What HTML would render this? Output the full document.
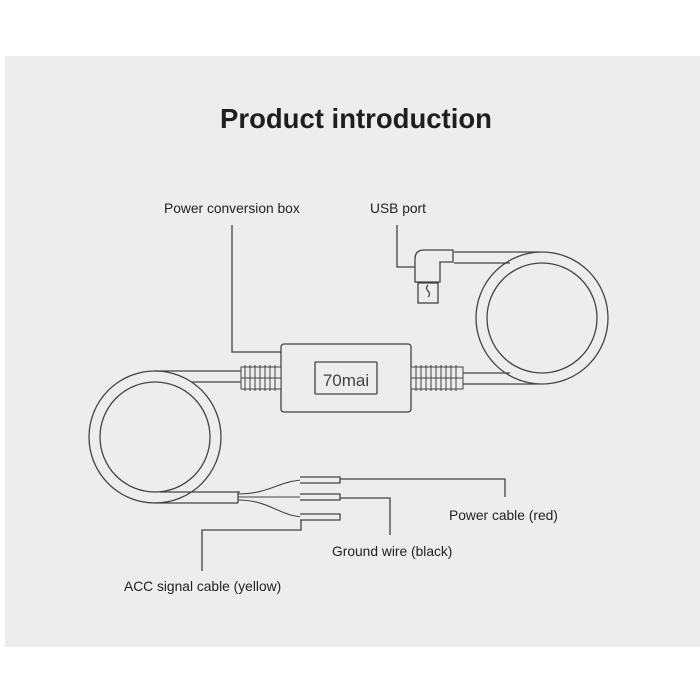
<!DOCTYPE html>
<html><head><style>
body{margin:0;background:#fff;width:700px;height:700px;position:relative;overflow:hidden;font-family:"Liberation Sans",sans-serif}
.p{position:absolute;left:5px;top:56px;width:695px;height:591px;background:#ededed}
.t{position:absolute;color:#222;font-size:13.8px;white-space:nowrap}
</style></head><body>
<div class="p"></div>
<div class="t" style="left:0;width:712px;text-align:center;top:103px;font-size:27.5px;font-weight:bold;color:#1e1e1e">Product introduction</div>
<div class="t" style="left:164px;top:201px">Power conversion box</div>
<div class="t" style="left:370px;top:201px">USB port</div>
<div class="t" style="left:449px;top:508px">Power cable (red)</div>
<div class="t" style="left:332px;top:544px">Ground wire (black)</div>
<div class="t" style="left:124px;top:579px">ACC signal cable (yellow)</div>
<svg width="700" height="700" style="position:absolute;left:0;top:0" fill="none" stroke="#444" stroke-width="1.3">
<path d="M232 225V352H281M397 225V267H415M340 479H505V497M340 498H390V535M301 517V530H202V571"/>
<circle cx="542" cy="318" r="66"/>
<circle cx="542" cy="318" r="55" />
<path d="M454 252H540M454 263H510" />
<path d="M463 373H510M463 384H540" fill="#ededed"/>
<circle cx="155" cy="437" r="66"/>
<circle cx="155" cy="437" r="55"/>
<path d="M155 371H241M192 382H241M160 492H238M155 503H238M238 492V503"/>
<path d="M238 494C270 494 280 480 305 480H340M238 497H340M238 500C270 500 280 517 305 517H340" stroke-width="1.1"/>
<path d="M238 492H240M300 477H340V483H300M300 494H340V500H300M300 514H340V520H300" fill="#ededed"/>
<rect x="281" y="344" width="130" height="68" rx="3" fill="#ededed"/>
<rect x="315" y="362" width="62" height="32" rx="1"/>
<text x="346" y="386" text-anchor="middle" font-family="Liberation Sans" font-size="17" fill="#444" stroke="none">70mai</text>
<g stroke-width="1">
<rect x="241" y="367" width="40" height="22" fill="#ededed"/>
<path d="M245 365V391M250 365V391M255 365V391M260 365V391M265 365V391M270 365V391M275 365V391M241 378H281"/>
<rect x="411" y="367" width="52" height="22" fill="#ededed"/>
<path d="M416 365V391M421 365V391M426 365V391M431 365V391M436 365V391M441 365V391M446 365V391M451 365V391M456 365V391M411 378H463"/>
</g>
<path d="M415 267V282H440V262H453V250H424Q415 250 415 259Z" fill="#ededed"/>
<rect x="418" y="283" width="20" height="20" fill="#ededed"/>
<path d="M428 285q-3 3 0 6q3 3 0 6" />
</svg>
</body></html>
